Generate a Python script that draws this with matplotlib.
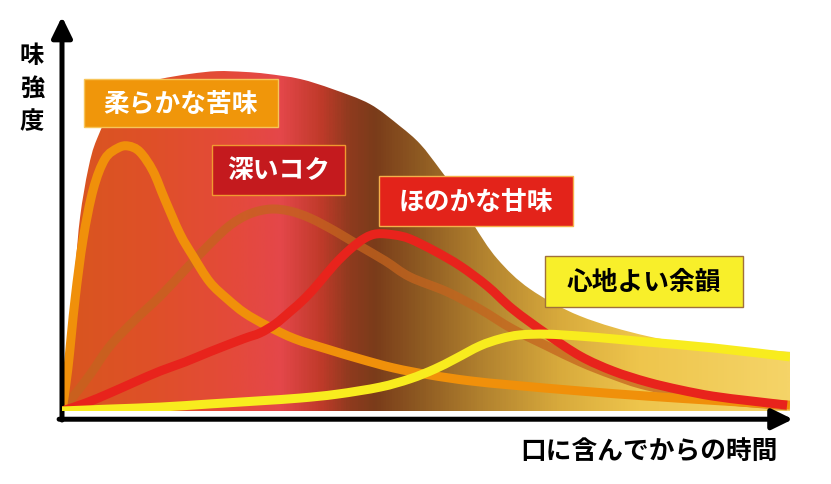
import numpy as np
import matplotlib.pyplot as plt
from matplotlib.colors import LinearSegmentedColormap
from matplotlib.patches import Rectangle, PathPatch
from matplotlib.path import Path

plt.rcParams['font.family'] = ['Noto Sans CJK JP', 'DejaVu Sans']

# 時間 (0-100) / 味強度 (0-100)
env_x = [0.5, 0.8, 1.2, 1.8, 2.5, 3.6, 4.8, 7.6, 10.7, 13.5, 17.6, 21.3, 25.1, 28.2,
         32.7, 37.2, 42.3, 46.4, 49.2, 51.9, 54.3, 56.5, 59.8, 64.3, 71.2, 80.4, 89.4, 100]
env_y = [0, 13.3, 26.0, 36.2, 49.7, 61.7, 69.4, 79.6, 83.2, 84.7, 86.0, 86.7, 86.5, 86.0,
         84.7, 82.1, 78.3, 72.7, 68.1, 61.7, 55.4, 47.7, 38.8, 31.1, 24.2, 19.1, 16.6, 15.1]

bitter_x = [0, 0.8, 1.8, 2.9, 4.3, 5.9, 7.7, 9.1, 10.7, 12.5, 14.1, 16.2, 18.0, 20.3, 22.7,
            25.1, 28.2, 32.0, 36.4, 40.9, 45.5, 50.5, 56.0, 61.9, 71.2, 80.4, 90.4, 100]
bitter_y = [0, 10.7, 28.6, 43.9, 56.6, 64.3, 67.1, 67.6, 66.1, 61.2, 54.1, 45.2, 39.5, 32.9,
            28.6, 25.0, 21.7, 18.4, 15.8, 13.3, 11.0, 9.2, 7.7, 6.6, 5.1, 3.8, 2.6, 1.5]

koku_x = [0, 1.8, 3.9, 6.6, 10.0, 13.5, 16.9, 20.3, 23.1, 25.8, 28.6, 31.3, 34.1, 37.5, 40.9,
          44.4, 47.8, 52.9, 57.4, 61.9, 66.6, 71.2, 75.7, 80.4, 89.4, 99.6]
koku_y = [0, 4.3, 9.4, 16.6, 23.2, 29.3, 36.0, 42.6, 47.4, 50.3, 51.5, 51.0, 49.2, 45.9, 42.1,
          38.3, 34.2, 30.4, 26.0, 20.9, 16.6, 12.5, 9.2, 6.4, 3.1, 1.3]

sweet_x = [0, 3.2, 6.6, 10.0, 13.5, 16.9, 20.3, 24.9, 27.2, 29.3, 31.3, 33.4, 35.4, 37.5,
           39.6, 41.6, 43.3, 45.7, 47.8, 51.2, 54.7, 58.4, 61.9, 66.6, 71.2, 75.7, 80.4,
           84.9, 89.4, 94.5, 99.6]
sweet_y = [0, 2.0, 4.6, 7.4, 10.2, 12.5, 15.1, 18.4, 19.9, 22.2, 25.3, 28.8, 32.9, 37.5,
           41.3, 44.1, 45.2, 44.9, 43.9, 40.8, 37.0, 31.9, 26.0, 19.6, 14.0, 10.2, 7.4,
           5.4, 3.8, 2.6, 1.5]

after_x = [0, 6.6, 13.5, 20.3, 27.2, 32.7, 37.8, 43.7, 47.8, 51.2, 54.0, 57.4, 60.2, 62.9,
           66.6, 71.2, 75.7, 80.4, 89.4, 100]
after_y = [0, 0.5, 1.0, 1.8, 2.6, 3.3, 4.3, 6.1, 8.2, 10.7, 13.3, 16.6, 18.4, 19.4,
           19.6, 19.1, 18.4, 17.6, 16.1, 13.8]

labels = ['柔らかな苦味', '深いコク', 'ほのかな甘味', '心地よい余韻']


def smooth_verts(x, y):
    # Catmull-Rom through the read points, drawn as cubic Bezier segments
    p = np.column_stack([x, y]).astype(float)
    ext = np.vstack([p[0], p, p[-1]])
    verts = [p[0]]
    codes = [Path.MOVETO]
    for i in range(len(p) - 1):
        p0, p1, p2, p3 = ext[i], ext[i + 1], ext[i + 2], ext[i + 3]
        verts += [p1 + (p2 - p0) / 6, p2 - (p3 - p1) / 6, p2]
        codes += [Path.CURVE4] * 3
    return verts, codes


W, H = 831, 485
fig = plt.figure(figsize=(W / 100, H / 100), dpi=100)
ax = fig.add_axes([62 / W, 1 - 412 / H, 728 / W, 392 / H])

# gradient envelope
stops = [(62, '#d8561f'), (150, '#df5028'), (230, '#e44a3a'), (280, '#e4474a'),
         (320, '#c03a2a'), (350, '#8e3a1e'), (375, '#7a3c1a'), (420, '#8e5a22'),
         (480, '#b0802e'), (560, '#d8aa3c'), (640, '#eec54c'), (790, '#f5d468')]
cmap = LinearSegmentedColormap.from_list(
    'env', [((p - 62) / 728, c) for p, c in stops])
grad = np.linspace(0, 1, 600).reshape(1, -1)
im = ax.imshow(grad, extent=[0, 100, 0, 100], aspect='auto', cmap=cmap,
               origin='lower', zorder=1)
v, c = smooth_verts(env_x, env_y)
v += [(env_x[-1], 0), (env_x[0], env_y[0])]
c += [Path.LINETO, Path.CLOSEPOLY]
env = PathPatch(Path(v, c), facecolor='none', edgecolor='none')
ax.add_patch(env)
im.set_clip_path(env)

lw = 6.5
series = [(koku_x, koku_y, '#c4641e', 0.75, 2),
          (bitter_x, bitter_y, '#f0900a', 1.0, 3),
          (sweet_x, sweet_y, '#e8231c', 1.0, 4),
          (after_x, after_y, '#f8ec1e', 1.0, 5)]
for xs, ys, col, a, z in series:
    v, c = smooth_verts(xs, ys)
    ax.add_patch(PathPatch(Path(v, c), facecolor='none', edgecolor=col,
                           alpha=a, lw=lw, capstyle='butt', zorder=z))

ax.set_xlim(0, 100)
ax.set_ylim(0, 100)
ax.axis('off')

# axis arrows
arrow = dict(arrowstyle='-|>,head_length=0.45,head_width=0.22', lw=3.6,
             color='black', mutation_scale=28, shrinkA=0, shrinkB=0)
ax.annotate('', xy=(0, 100.6), xytext=(0, -2.3), arrowprops=arrow,
            annotation_clip=False)
ax.annotate('', xy=(100.4, -2.1), xytext=(-0.4, -2.1), arrowprops=arrow,
            annotation_clip=False)

# label boxes (pixel layout)
boxes = [((84, 80, 278, 128), '#f0960a', '#f7c55a', 'white'),
         ((212, 146, 345, 196), '#c41a1e', '#f09a30', 'white'),
         ((379, 177, 573, 227), '#e3231a', '#f5b04a', 'white'),
         ((545, 257, 743, 308), '#f8ef2a', '#a0703a', 'black')]
for text, ((x0, y0, x1, y1), fc, ec, tc) in zip(labels, boxes):
    fig.add_artist(Rectangle((x0 / W, 1 - y1 / H), (x1 - x0) / W, (y1 - y0) / H,
                             transform=fig.transFigure, facecolor=fc,
                             edgecolor=ec, lw=1.0, zorder=5))
    fig.text((x0 + x1) / 2 / W, 1 - (y0 + y1) / 2 / H, text, color=tc,
             fontsize=18.5, fontweight='bold', ha='center', va='center', zorder=6)

# axis titles
for ch, py in zip('味強度', [56, 89, 122]):
    fig.text(32 / W, 1 - py / H, ch, fontsize=17.5, fontweight='bold',
             ha='center', va='center')
fig.text(778 / W, 1 - 452 / H, '口に含んでからの時間', fontsize=18.5,
         fontweight='bold', ha='right', va='center')

fig.savefig('out.png', dpi=100)
